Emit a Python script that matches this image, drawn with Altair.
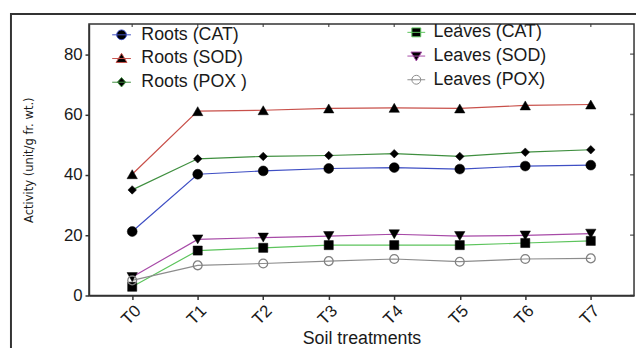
import altair as alt
import pandas as pd

treatments = ["T0", "T1", "T2", "T3", "T4", "T5", "T6", "T7"]
roots_labels = ["Roots (CAT)", "Roots (SOD)", "Roots (POX )"]
leaves_labels = ["Leaves (CAT)", "Leaves (SOD)", "Leaves (POX)"]

roots_cat = [21.2, 40.2, 41.3, 42.1, 42.4, 41.9, 42.9, 43.2]
roots_sod = [40.2, 61.1, 61.4, 62.0, 62.2, 62.0, 63.0, 63.3]
roots_pox = [35.0, 45.3, 46.1, 46.4, 47.0, 46.1, 47.5, 48.3]
leaves_cat = [2.9, 14.9, 15.8, 16.7, 16.7, 16.7, 17.4, 18.1]
leaves_sod = [6.1, 18.6, 19.2, 19.7, 20.3, 19.7, 19.9, 20.5]
leaves_pox = [5.0, 10.0, 10.6, 11.4, 12.1, 11.2, 12.1, 12.3]

y_ticks = [0, 20, 40, 60, 80]

roots_colors = ["#3f4fc4", "#c8504a", "#3f8f3f"]
leaves_colors = ["#5cc45c", "#a74aa7", "#8c8c8c"]

all_labels = roots_labels + leaves_labels
all_colors = roots_colors + leaves_colors
all_values = [roots_cat, roots_sod, roots_pox, leaves_cat, leaves_sod, leaves_pox]
rows = []
for lab, vals in zip(all_labels, all_values):
    for t, v in zip(treatments, vals):
        rows.append({"treat": t, "value": v, "series": lab})
df = pd.DataFrame(rows)

FONT = "Liberation Sans"

x_enc = alt.X(
    "treat:N", sort=treatments,
    scale=alt.Scale(type="point", padding=0.66),
    axis=alt.Axis(title="Soil treatments", labelAngle=-45, labelFontSize=17,
                  tickSize=4, titleFontSize=18, titleFontWeight="normal",
                  titlePadding=2, grid=False, labelPadding=3),
)
y_enc = alt.Y(
    "value:Q", scale=alt.Scale(domain=[0, 90], nice=False),
    axis=alt.Axis(values=y_ticks, tickSize=4, labelPadding=3,
                  labelFontSize=17, title="Activity (unit/g fr. wt.)",
                  titleFont="DejaVu Sans Condensed, Liberation Sans", titleFontSize=13,
                  titleFontWeight="normal", titlePadding=28, grid=False),
)

marks = [
    dict(shape="circle", size=100, filled=True, fill="black", stroke="black", strokeWidth=0.5),
    dict(shape="triangle-up", size=110, filled=True, fill="black", stroke="black", strokeWidth=0.5),
    dict(shape="diamond", size=75, filled=True, fill="black", stroke="black", strokeWidth=0.5),
    dict(shape="square", size=85, filled=True, fill="black", stroke="black", strokeWidth=0.5),
    dict(shape="triangle-down", size=110, filled=True, fill="black", stroke="black", strokeWidth=0.5),
    dict(shape="circle", size=80, filled=False, fill="transparent", stroke="#808080", strokeWidth=1.3),
]

roots_paths = [
    "M-1,0L1,0M-0.52,0A0.52,0.52,0,1,1,0.52,0A0.52,0.52,0,1,1,-0.52,0Z",
    "M-1,0L1,0M0,-0.55L0.58,0.42L-0.58,0.42Z",
    "M-1,0L1,0M0,-0.5L0.45,0L0,0.5L-0.45,0Z",
]
leaves_paths = [
    "M-1,0L1,0M-0.5,-0.5L0.5,-0.5L0.5,0.5L-0.5,0.5Z",
    "M-1,0L1,0M-0.6,-0.45L0.6,-0.45L0,0.55Z",
    "M-1,0L1,0M-0.5,0A0.5,0.5,0,1,1,0.5,0A0.5,0.5,0,1,1,-0.5,0Z",
]
roots_fills = ["black", "black", "black"]
leaves_fills = ["black", "black", "transparent"]

base = alt.Chart(df)

lines = base.mark_line(strokeWidth=1.2).encode(
    x=x_enc, y=y_enc,
    color=alt.Color("series:N", scale=alt.Scale(domain=all_labels, range=all_colors), legend=None),
)

points = [
    base.transform_filter(alt.datum.series == lab).mark_point(opacity=1, **m).encode(x=x_enc, y=y_enc)
    for lab, m in zip(all_labels, marks)
]

roots_legend = alt.Legend(title=None, orient="none", legendX=23, legendY=1, symbolSize=361,
                          symbolStrokeWidth=1, labelFontSize=18, labelFont=FONT,
                          labelColor="#1a1a1a", labelOffset=10, rowPadding=5, padding=0)
leaves_legend = alt.Legend(title=None, orient="none", legendX=322, legendY=-1, symbolSize=324,
                           symbolStrokeWidth=1, labelFontSize=18, labelFont=FONT,
                           labelColor="#1a1a1a", labelOffset=8, rowPadding=5, padding=0)


def key_layer(labels, paths, colors, fills, legend):
    return alt.Chart(df[df["series"].isin(labels)]).mark_point(
        opacity=1, strokeWidth=1, size=0
    ).encode(
        x=x_enc, y=y_enc,
        shape=alt.Shape("series:N", scale=alt.Scale(domain=labels, range=paths), legend=legend),
        stroke=alt.Stroke("series:N", scale=alt.Scale(domain=labels, range=colors), legend=legend),
        fill=alt.Fill("series:N", scale=alt.Scale(domain=labels, range=fills), legend=legend),
    )


roots_key = key_layer(roots_labels, roots_paths, roots_colors, roots_fills, roots_legend)
leaves_key = key_layer(leaves_labels, leaves_paths, leaves_colors, leaves_fills, leaves_legend)

tick_df = pd.DataFrame({"treat": treatments})
top_ticks = alt.Chart(tick_df).mark_tick(orient="vertical", size=3, thickness=1.5, color="#333333").encode(
    x=alt.X("treat:N", sort=treatments), y=alt.value(1.5)
)
ytick_df = pd.DataFrame({"value": y_ticks})
right_ticks = alt.Chart(ytick_df).mark_tick(orient="horizontal", size=4, thickness=1.5, color="#333333").encode(
    y=alt.Y("value:Q"), x=alt.value(550)
)

frame = alt.Chart(pd.DataFrame({"k": [0]})).mark_rect(
    fill="transparent", stroke="#333333", strokeWidth=2
).encode(x=alt.value(-79), x2=alt.value(700), y=alt.value(-10), y2=alt.value(400))

chart = (
    alt.layer(frame, lines, *points, roots_key, leaves_key, top_ticks, right_ticks)
    .resolve_scale(shape="independent", stroke="independent", fill="independent")
    .properties(width=552, height=275,
                padding={"left": 82, "top": 14, "right": 2, "bottom": 51},
                autosize=alt.AutoSizeParams(type="none"))
    .configure_axis(labelFont=FONT, titleFont=FONT, domainColor="#333333", domainWidth=1.5,
                    tickColor="#333333", tickWidth=1.5, labelColor="#1a1a1a", titleColor="#1a1a1a")
    .configure_view(stroke="#333333", strokeWidth=1.5)
)

chart.save("out.html", embed_options={"renderer": "svg", "actions": False})
